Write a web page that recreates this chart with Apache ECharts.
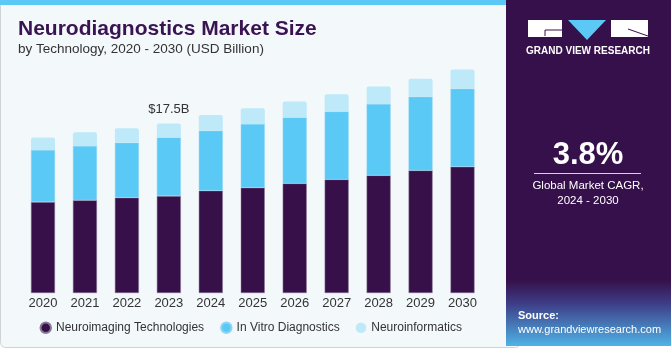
<!DOCTYPE html>
<html>
<head>
<meta charset="utf-8">
<script src="https://cdn.jsdelivr.net/npm/echarts@6/dist/echarts.min.js"></script>
<style>
  html, body { margin: 0; padding: 0; background: #ffffff; }
  #chart { width: 671px; height: 350px; }
</style>
</head>
<body>
<div id="chart"></div>
<script>
// data (USD Billion)
var years = ['2020', '2021', '2022', '2023', '2024', '2025', '2026', '2027', '2028', '2029', '2030'];
var neuroimaging = [9.38, 9.56, 9.83, 10.0, 10.55, 10.86, 11.30, 11.71, 12.13, 12.64, 13.02];
var inVitro = [5.36, 5.60, 5.67, 6.05, 6.19, 6.57, 6.81, 7.01, 7.36, 7.60, 8.04];
var neuroinformatics = [1.31, 1.41, 1.48, 1.44, 1.62, 1.62, 1.65, 1.79, 1.81, 1.86, 1.99];
var labelIndex = 3; // only 2023 gets a total label

var FONT = '"Liberation Sans", Arial, sans-serif';
var chart = echarts.init(document.getElementById('chart'));

// total label on the top segment
var topData = neuroinformatics.map(function (v, i) {
    if (i !== labelIndex) return v;
    var total = neuroimaging[i] + inVitro[i] + neuroinformatics[i];
    return {
        value: v,
        label: {
            show: true, position: 'top', distance: 7,
            formatter: '$' + total.toFixed(1) + 'B',
            color: '#333333', fontSize: 13, fontFamily: FONT
        }
    };
});

var option = {
    backgroundColor: '#ffffff',
    animation: false,
    title: [{
        text: 'Neurodiagnostics Market Size',
        left: 18, top: 19, padding: 0,
        textStyle: { color: '#3a1352', fontSize: 21, fontWeight: 'bold', fontFamily: FONT }
    }, {
        text: 'by Technology, 2020 - 2030 (USD Billion)',
        left: 18, top: 42.5, padding: 0,
        textStyle: { color: '#333333', fontSize: 13.5, fontWeight: 'normal', fontFamily: FONT }
    }],
    legend: {
        left: 39.5, top: 321.5, padding: 0,
        icon: 'circle', itemWidth: 10.5, itemHeight: 10.5, itemGap: 16,
        textStyle: { color: '#333333', fontSize: 12, fontFamily: FONT },
        data: ['Neuroimaging Technologies', 'In Vitro Diagnostics', 'Neuroinformatics']
    },
    grid: { left: 22, right: 671 - 483.5, top: 50.6, bottom: 57, containLabel: false },
    xAxis: {
        type: 'category', data: years,
        axisLine: { show: false }, axisTick: { show: false },
        axisLabel: { color: '#333333', fontSize: 13, margin: 4, fontFamily: FONT }
    },
    yAxis: { type: 'value', min: 0, max: 25, show: false, splitLine: { show: false } },
    series: [{
        name: 'Neuroimaging Technologies', type: 'bar', stack: 'total', barWidth: 24,
        itemStyle: { color: '#37104a', borderColor: '#8a7898', borderWidth: 0.5 },
        data: neuroimaging
    }, {
        name: 'In Vitro Diagnostics', type: 'bar', stack: 'total',
        itemStyle: { color: '#5bc9f6', borderColor: '#8fd6f4', borderWidth: 0.5 },
        data: inVitro
    }, {
        name: 'Neuroinformatics', type: 'bar', stack: 'total',
        itemStyle: { color: '#bde9f9', borderRadius: [2, 2, 0, 0] },
        data: topData
    }],
    graphic: [
        // left panel background and border
        { type: 'rect', z: -10, shape: { x: 0.5, y: 0.5, width: 520, height: 347, r: 5 },
          style: { fill: '#f3f8fb', stroke: '#cfd3d6', lineWidth: 1 } },
        { type: 'rect', z: -9, shape: { x: 0, y: 0, width: 506, height: 5 }, style: { fill: '#5bc8f5' } },
        // right panel
        { type: 'rect', z: -8, shape: { x: 506, y: 0, width: 165, height: 346 }, style: { fill: '#36104a' } },
        { type: 'rect', z: -7, shape: { x: 506, y: 280, width: 165, height: 66 },
          style: { fill: new echarts.graphic.LinearGradient(0, 0, 0, 1, [
              { offset: 0, color: '#36104a' }, { offset: 0.35, color: '#3d3c86' },
              { offset: 1, color: '#4fb3e6' }]) } },
        // logo
        { type: 'rect', shape: { x: 528, y: 20, width: 34, height: 17 }, style: { fill: '#ffffff' } },
        { type: 'polyline', shape: { points: [[545, 36], [545, 30], [562, 30]] }, style: { stroke: '#36104a', lineWidth: 1, fill: null } },
        { type: 'polygon', shape: { points: [[568, 20], [606, 20], [587, 40]] }, style: { fill: '#5bc8f5' } },
        { type: 'rect', shape: { x: 611, y: 20, width: 37, height: 17 }, style: { fill: '#ffffff' } },
        { type: 'line', shape: { x1: 628, y1: 29, x2: 648, y2: 36 }, style: { stroke: '#36104a', lineWidth: 1 } },
        { type: 'text', x: 588, y: 51, style: { text: 'GRAND VIEW RESEARCH', fill: '#ffffff', font: 'bold 10px ' + FONT, align: 'center', verticalAlign: 'middle' } },
        // CAGR
        { type: 'text', x: 588, y: 155, style: { text: '3.8%', fill: '#ffffff', font: 'bold 31px ' + FONT, align: 'center', verticalAlign: 'middle' } },
        { type: 'line', shape: { x1: 534, y1: 173.5, x2: 641, y2: 173.5 }, style: { stroke: '#d8d0e0', lineWidth: 1 } },
        { type: 'text', x: 588, y: 186, style: { text: 'Global Market CAGR,', fill: '#ffffff', font: '11.5px ' + FONT, align: 'center', verticalAlign: 'middle' } },
        { type: 'text', x: 588, y: 201, style: { text: '2024 - 2030', fill: '#ffffff', font: '11.5px ' + FONT, align: 'center', verticalAlign: 'middle' } },
        // source
        { type: 'text', x: 518, y: 316, style: { text: 'Source:', fill: '#ffffff', font: 'bold 11px ' + FONT, verticalAlign: 'middle' } },
        { type: 'text', x: 518, y: 330, style: { text: 'www.grandviewresearch.com', fill: '#ffffff', font: '11px ' + FONT, verticalAlign: 'middle' } }
    ]
};

chart.setOption(option);
</script>
</body>
</html>
